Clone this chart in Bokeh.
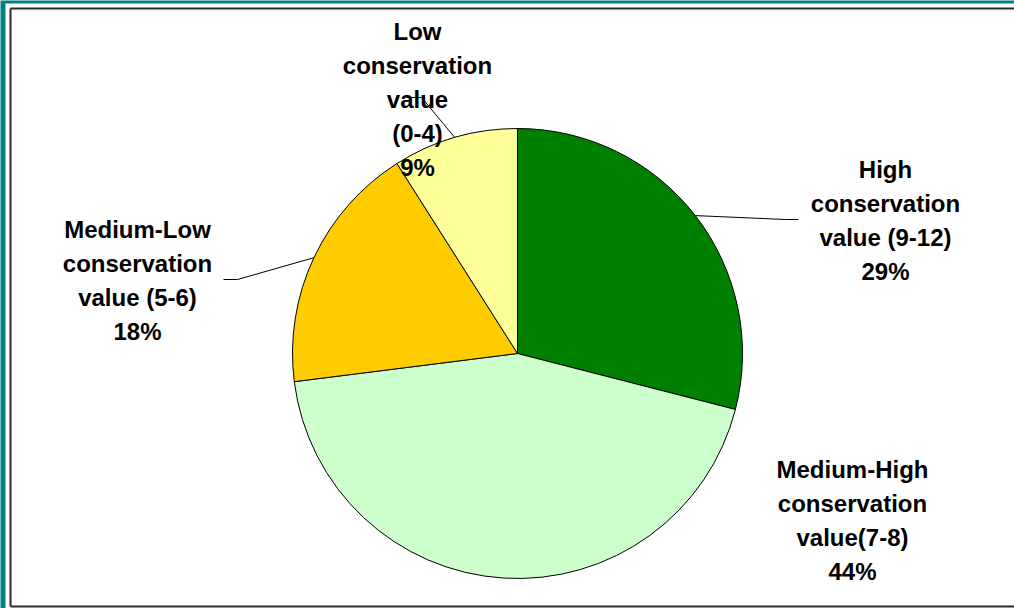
import math
from bokeh.plotting import figure
from bokeh.models import Range1d, ColumnDataSource
from bokeh.core.properties import value
from bokeh.embed import file_html
from bokeh.resources import INLINE

# ---- data ----
categories = ["High conservation value (9-12)",
              "Medium-High conservation value(7-8)",
              "Medium-Low conservation value (5-6)",
              "Low conservation value (0-4)"]
shares = [29, 44, 18, 9]
label_texts = ["High\nconservation\nvalue (9-12)\n29%",
               "Medium-High\nconservation\nvalue(7-8)\n44%",
               "Medium-Low\nconservation\nvalue (5-6)\n18%",
               "Low\nconservation\nvalue\n(0-4)\n9%"]
colors = ["#008000", "#CCFFCC", "#FFCC00", "#FFFF99"]

W, H = 1014, 608
def Y(y):
    return H - y

p = figure(width=W, height=H, x_range=Range1d(0, W), y_range=Range1d(0, H),
           output_backend="svg", toolbar_location=None,
           x_axis_type=None, y_axis_type=None, min_border=0,
           background_fill_color="#008080", border_fill_color="white",
           outline_line_color=None)
p.grid.visible = False

# frame
p.quad(left=[5], right=[W + 60], bottom=[Y(H + 60)], top=[Y(3)],
       fill_color="white", line_color=None)
p.multi_line(xs=[[10, 10], [10, W + 60], [10, W + 60]],
             ys=[[Y(8), Y(606)], [Y(8), Y(8)], [Y(606), Y(606)]],
             line_color="#2b2b2b", line_width=2)

# pie
cx, cy, r = 517, Y(353), 225
total = sum(shares)
starts, ends, mids = [], [], []
cum = 0.0
for s in shares:
    a0 = math.pi / 2 - 2 * math.pi * cum / total
    cum += s
    a1 = math.pi / 2 - 2 * math.pi * cum / total
    starts.append(a0)
    ends.append(a1)
    mids.append((a0 + a1) / 2)

src = ColumnDataSource(dict(start=starts, end=ends, color=colors, cat=categories))
p.wedge(x=cx, y=cy, radius=r, start_angle="start", end_angle="end",
        direction="clock", fill_color="color", line_color="#000000",
        line_width=1, source=src)

# leader lines (edge point from slice mid-angle)
def edge(i):
    return cx + r * math.cos(mids[i]), cy + r * math.sin(mids[i])

leaders = {0: [(785, 219), (798, 219)],
           2: [(237, 279), (223, 279)],
           3: [(421, 97), (406, 97)]}
xs, ys = [], []
for i, pts in leaders.items():
    ex, ey = edge(i)
    xs.append([ex] + [pt[0] for pt in pts])
    ys.append([ey] + [Y(pt[1]) for pt in pts])
p.multi_line(xs=xs, ys=ys, line_color="#000000", line_width=1)

# labels
label_pos = [(885, 220), (852, 520), (137, 280), (417, 99)]
p.text(x=[q[0] for q in label_pos], y=[Y(q[1]) for q in label_pos],
       text=label_texts, text_align="center", text_baseline="middle",
       text_font=value("Liberation Sans"), text_font_style="bold",
       text_font_size="24px", text_color="#000000", text_line_height=1.26)

open("out.html", "w").write(file_html(p, INLINE))
